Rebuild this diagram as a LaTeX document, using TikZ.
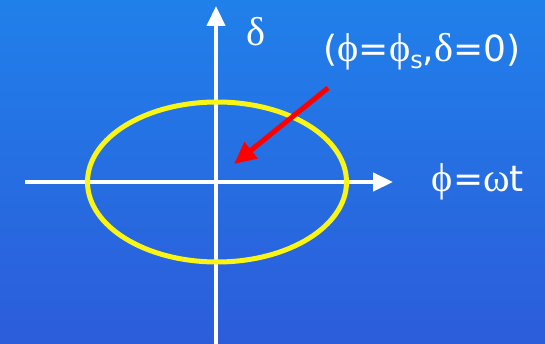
\documentclass[tikz,border=0pt]{standalone}
\usepackage{fontspec}
\setmainfont{DejaVu Sans}
\newfontfamily\grk{Liberation Serif}[Scale=1.12]
\usetikzlibrary{arrows.meta,shapes.geometric}
\definecolor{bgtop}{RGB}{32,128,234}
\definecolor{bgbot}{RGB}{44,92,218}
\definecolor{ellyel}{RGB}{250,245,20}
\tikzset{
  axis/.style={white, line width=4.5pt, -{Triangle[length=20pt,width=18pt]}},
  lbl/.style={text=white, font=\fontsize{36}{40}\selectfont, inner sep=0pt},
}
\begin{document}
\begin{tikzpicture}[x=1pt,y=-1pt]
\shade[top color=bgtop, bottom color=bgbot] (0,0) rectangle (545,344);
\useasboundingbox (0,0) rectangle (545,344);
\coordinate (xs) at (25,182);
\coordinate (xe) at (393,182);
\coordinate (ys) at (216,344);
\coordinate (ye) at (216,6);
\draw[axis] (xs) -- (xe);
\draw[axis] (ys) -- (ye);
\node[draw=ellyel, line width=5pt, ellipse, minimum width=259pt, minimum height=160pt, inner sep=0pt] (ell) at (217,182) {};
\coordinate (as) at (328,88);
\coordinate (ae) at (234,164);
\draw[red, line width=5pt, -{Triangle[length=22pt,width=20pt]}] (as) -- (ae);
\node[lbl] (d) at (256,32) {\grk δ};
\node[lbl] (p) at (422,52) {({\grk ϕ}={\grk ϕ}\raisebox{-7pt}{\fontsize{24}{26}\selectfont s},{\grk δ}=0)};
\node[lbl] (w) at (478,182) {{\grk ϕ}={\grk ω}t};
\end{tikzpicture}
\end{document}
